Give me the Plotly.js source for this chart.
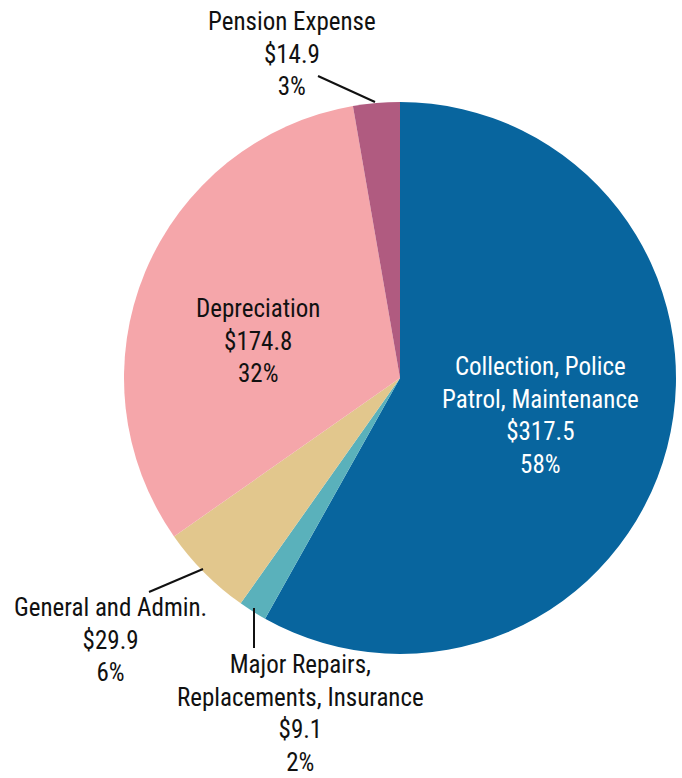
<!DOCTYPE html>
<html>
<head>
<meta charset="utf-8">
<script src="https://cdn.plot.ly/plotly-3.0.1.min.js"></script>
<style>
html,body{margin:0;padding:0;background:#fff;}
#chart{width:682px;height:778px;}
</style>
</head>
<body>
<div id="chart"></div>
<script>
// Data
const categories = [
  "Collection, Police<br>Patrol, Maintenance",
  "Major Repairs,<br>Replacements, Insurance",
  "General and Admin.",
  "Depreciation",
  "Pension Expense"
];
const values = [317.5, 9.1, 29.9, 174.8, 14.9];
const valueLabels = ["$317.5", "$9.1", "$29.9", "$174.8", "$14.9"];
const pctLabels = ["58%", "2%", "6%", "32%", "3%"];
const colors = ["#08659E", "#5AB1BB", "#E2C78D", "#F5A6AA", "#B05B80"];

const W = 682, H = 778;
const cx = 400, cy = 378, r = 276;
const FONT = '"Roboto Condensed", "Liberation Sans Narrow", "Arial Narrow", Roboto, sans-serif';

// label placement (pixel centers) and text colours
const labelPos = [
  {x: 540, y: 416, color: "#ffffff"},
  {x: 300, y: 713, color: "#111111"},
  {x: 110, y: 640, color: "#111111"},
  {x: 258, y: 341, color: "#111111"},
  {x: 292, y: 54,  color: "#111111"}
];
// leader lines in pixels
const leaders = [
  null,
  [254, 608, 254, 648],
  [149, 592, 203, 569],
  null,
  [318, 76, 375, 102]
];

const px = v => v / W;
const py = v => 1 - v / H;

const annotations = categories.map((c, i) => ({
  xref: "paper", yref: "paper",
  x: px(labelPos[i].x), y: py(labelPos[i].y),
  xanchor: "center", yanchor: "middle",
  showarrow: false,
  align: "center",
  text: c + "<br>" + valueLabels[i] + "<br>" + pctLabels[i],
  font: {family: FONT, size: 25, color: labelPos[i].color}
}));

const shapes = leaders.filter(l => l).map(l => ({
  type: "line", xref: "paper", yref: "paper",
  x0: px(l[0]), y0: py(l[1]), x1: px(l[2]), y1: py(l[3]),
  line: {color: "#111111", width: 2}
}));

const trace = {
  type: "pie",
  labels: categories,
  values: values,
  sort: false,
  direction: "clockwise",
  rotation: 0,
  textinfo: "none",
  hoverinfo: "none",
  marker: {colors: colors, line: {width: 0}},
  domain: {x: [px(cx - r), px(cx + r)], y: [py(cy + r), py(cy - r)]},
  showlegend: false
};

const layout = {
  width: W, height: H,
  margin: {l: 0, r: 0, t: 0, b: 0},
  paper_bgcolor: "#ffffff",
  showlegend: false,
  annotations: annotations,
  shapes: shapes,
  font: {family: FONT}
};

Plotly.newPlot("chart", [trace], layout, {displayModeBar: false, staticPlot: true});
</script>
</body>
</html>
